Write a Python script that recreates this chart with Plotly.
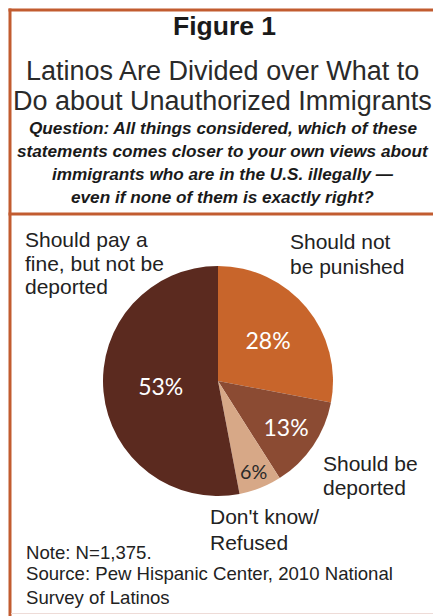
import plotly.graph_objects as go

W, H = 433, 616

# Survey responses (percent)
labels = ["Should not be punished", "Should be deported", "Don't know/Refused",
          "Should pay a fine, but not be deported"]
values = [28, 13, 6, 53]
colors = ["#C8652B", "#8B4B33", "#D7A887", "#5B2A1F"]
text_colors = ["#FFFFFF", "#FFFFFF", "#2A2A2A", "#FFFFFF"]

title_main = "Figure 1"
title_lines = ["Latinos Are Divided over What to", "Do about Unauthorized Immigrants"]
question_lines = [
    "Question: All things considered, which of these",
    "statements comes closer to your own views about",
    "immigrants who are in the U.S. illegally \u2014",
    "even if none of them is exactly right?",
]
note_lines = ["Note: N=1,375.", "Source: Pew Hispanic Center, 2010 National", "Survey of Latinos"]

# Outside slice captions, one entry per line: (text, x_px, y_px)
slice_captions = [
    ("Should pay a", 23, 239), ("fine, but not be", 23, 263), ("deported", 23, 287),
    ("Should not", 288, 242), ("be punished", 288, 266),
    ("Should be", 321, 463), ("deported", 321, 487),
    ("Don't know/", 208, 516), ("Refused", 208, 542),
]

FONT = "Liberation Sans, Arial, sans-serif"
FRAME = "#C25C30"


def px(x):
    return x / W


def py(y):
    return 1 - y / H


# pie placement in pixels: centre and radius
cx, cy, r = 218, 381, 115

fig = go.Figure(go.Pie(
    labels=labels,
    values=values,
    sort=False,
    direction="clockwise",
    rotation=0,
    marker=dict(colors=colors, line=dict(width=0)),
    texttemplate="%{value}%",
    textposition="inside",
    insidetextorientation="horizontal",
    textfont=dict(family="Lato, sans-serif", size=23, color=text_colors),
    hoverinfo="label+percent",
    showlegend=False,
    domain=dict(x=[px(cx - r), px(cx + r)], y=[py(cy + r), py(cy - r)]),
))

annotations = []


def add_text(text, x, y, size, xanchor="center", color="#1A1A1A", family=FONT):
    annotations.append(dict(
        text=text, x=px(x), y=py(y), xref="paper", yref="paper",
        xanchor=xanchor, yanchor="middle", showarrow=False,
        font=dict(family=family, size=size, color=color),
    ))


add_text("<b>" + title_main + "</b>", 224, 26, 26.5)
for i, line in enumerate(title_lines):
    add_text(line, 222, 71 + i * 30, 27, color="#2A2A2A")
for i, line in enumerate(question_lines):
    add_text("<b><i>" + line + "</i></b>", 223, 128 + i * 23, 17.2)
for text, x, y in slice_captions:
    add_text(text, x, y, 21, xanchor="left", color="#222222")
for text, y in zip(note_lines, [552, 573, 597]):
    add_text(text, 24, y, 18.6, xanchor="left", color="#222222")

shapes = [
    # frame: left edge, top edge, divider under the heading
    dict(type="line", xref="paper", yref="paper", x0=px(10), x1=px(10), y0=0, y1=py(8.5),
         line=dict(color=FRAME, width=3)),
    dict(type="line", xref="paper", yref="paper", x0=px(8.5), x1=1, y0=py(10), y1=py(10),
         line=dict(color=FRAME, width=3)),
    dict(type="line", xref="paper", yref="paper", x0=px(8.5), x1=1, y0=py(214), y1=py(214),
         line=dict(color=FRAME, width=3)),
    dict(type="line", xref="paper", yref="paper", x0=px(11), x1=1, y0=py(613.5), y1=py(613.5),
         line=dict(color="#EEDCD8", width=1)),
]

fig.update_layout(
    width=W, height=H,
    margin=dict(l=0, r=0, t=0, b=0),
    paper_bgcolor="white",
    plot_bgcolor="white",
    annotations=annotations,
    shapes=shapes,
)

fig.write_html("out.html")
